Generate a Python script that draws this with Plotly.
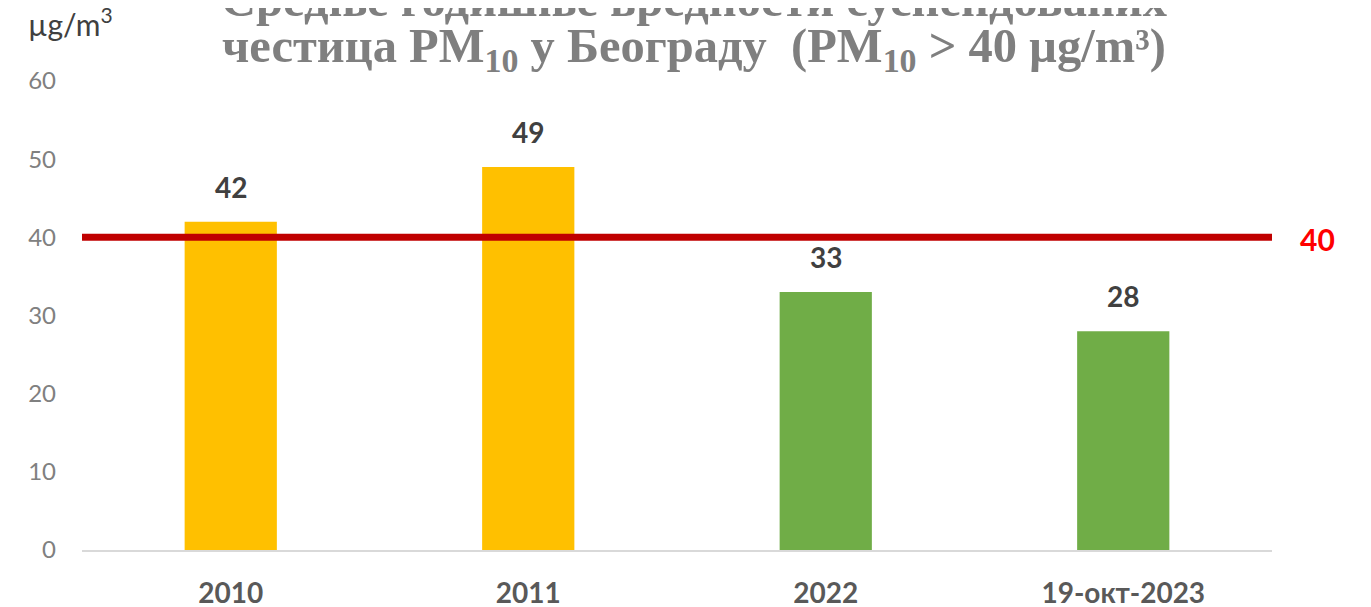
import plotly.graph_objects as go

categories = ["2010", "2011", "2022", "19-окт-2023"]
values = [42, 49, 33, 28]
bar_colors = ["#FFC000", "#FFC000", "#70AD47", "#70AD47"]
limit_value = 40
y_ticks = [0, 10, 20, 30, 40, 50, 60]
title_line1 = "Средње годишње вредности суспендованих"
title_line2 = "честица PM<sub>10</sub> у Београду  (PM<sub>10</sub> > 40 µg/m³)"
unit_label = "µg/m<sup>3</sup>"

fig = go.Figure()
fig.add_trace(go.Bar(
    x=categories, y=values, marker=dict(color=bar_colors, line=dict(width=0)),
    width=0.31, hoverinfo="x+y",
))

for i, v in enumerate(values):
    fig.add_annotation(x=i, y=v, text=f"<b>{v}</b>", showarrow=False,
                       yanchor="bottom", yshift=16,
                       font=dict(family="Lato", size=28, color="#404040"))

fig.add_shape(type="line", xref="paper", yref="y", x0=0, x1=1,
              y0=limit_value, y1=limit_value,
              line=dict(color="#C00000", width=7), layer="above")
fig.add_annotation(xref="paper", yref="y", x=1.022, y=limit_value, yshift=-2,
                   text=f"<b>{limit_value}</b>", showarrow=False, xanchor="left",
                   font=dict(family="Lato", size=30, color="#FF0000"))

fig.add_annotation(xref="paper", yref="paper", x=0.514, y=1.113, yanchor="bottom",
                   text=f"<b>{title_line1}</b>", showarrow=False,
                   font=dict(family="Liberation Serif", size=48.5, color="#7F7F7F"))
fig.add_annotation(xref="paper", yref="paper", x=0.514, y=1.001, yanchor="bottom",
                   text=f"<b>{title_line2}</b>", showarrow=False,
                   font=dict(family="Liberation Serif", size=48.5, color="#7F7F7F"))
fig.add_annotation(xref="paper", yref="paper", x=-0.010, y=1.125, xanchor="center",
                   yanchor="middle",
                   text=unit_label, showarrow=False,
                   font=dict(family="Lato", size=30, color="#404040"))

fig.update_layout(
    width=1371, height=607,
    margin=dict(l=74, r=107, t=73, b=65),
    paper_bgcolor="white", plot_bgcolor="white",
    showlegend=False,
    xaxis=dict(type="category", range=[-0.5, 3.5], automargin=False,
               showgrid=False, showline=True,
               linecolor="#D9D9D9", linewidth=1.5, ticks="", ticklabelstandoff=18,
               tickfont=dict(family="Lato", size=28, color="#595959", weight="bold")),
    yaxis=dict(range=[0, 60], tickvals=y_ticks, automargin=False,
               showgrid=False, zeroline=False,
               showline=False, ticks="", ticklabelstandoff=25,
               tickfont=dict(family="Lato", size=24, color="#808080")),
)

fig.write_html("out.html")
